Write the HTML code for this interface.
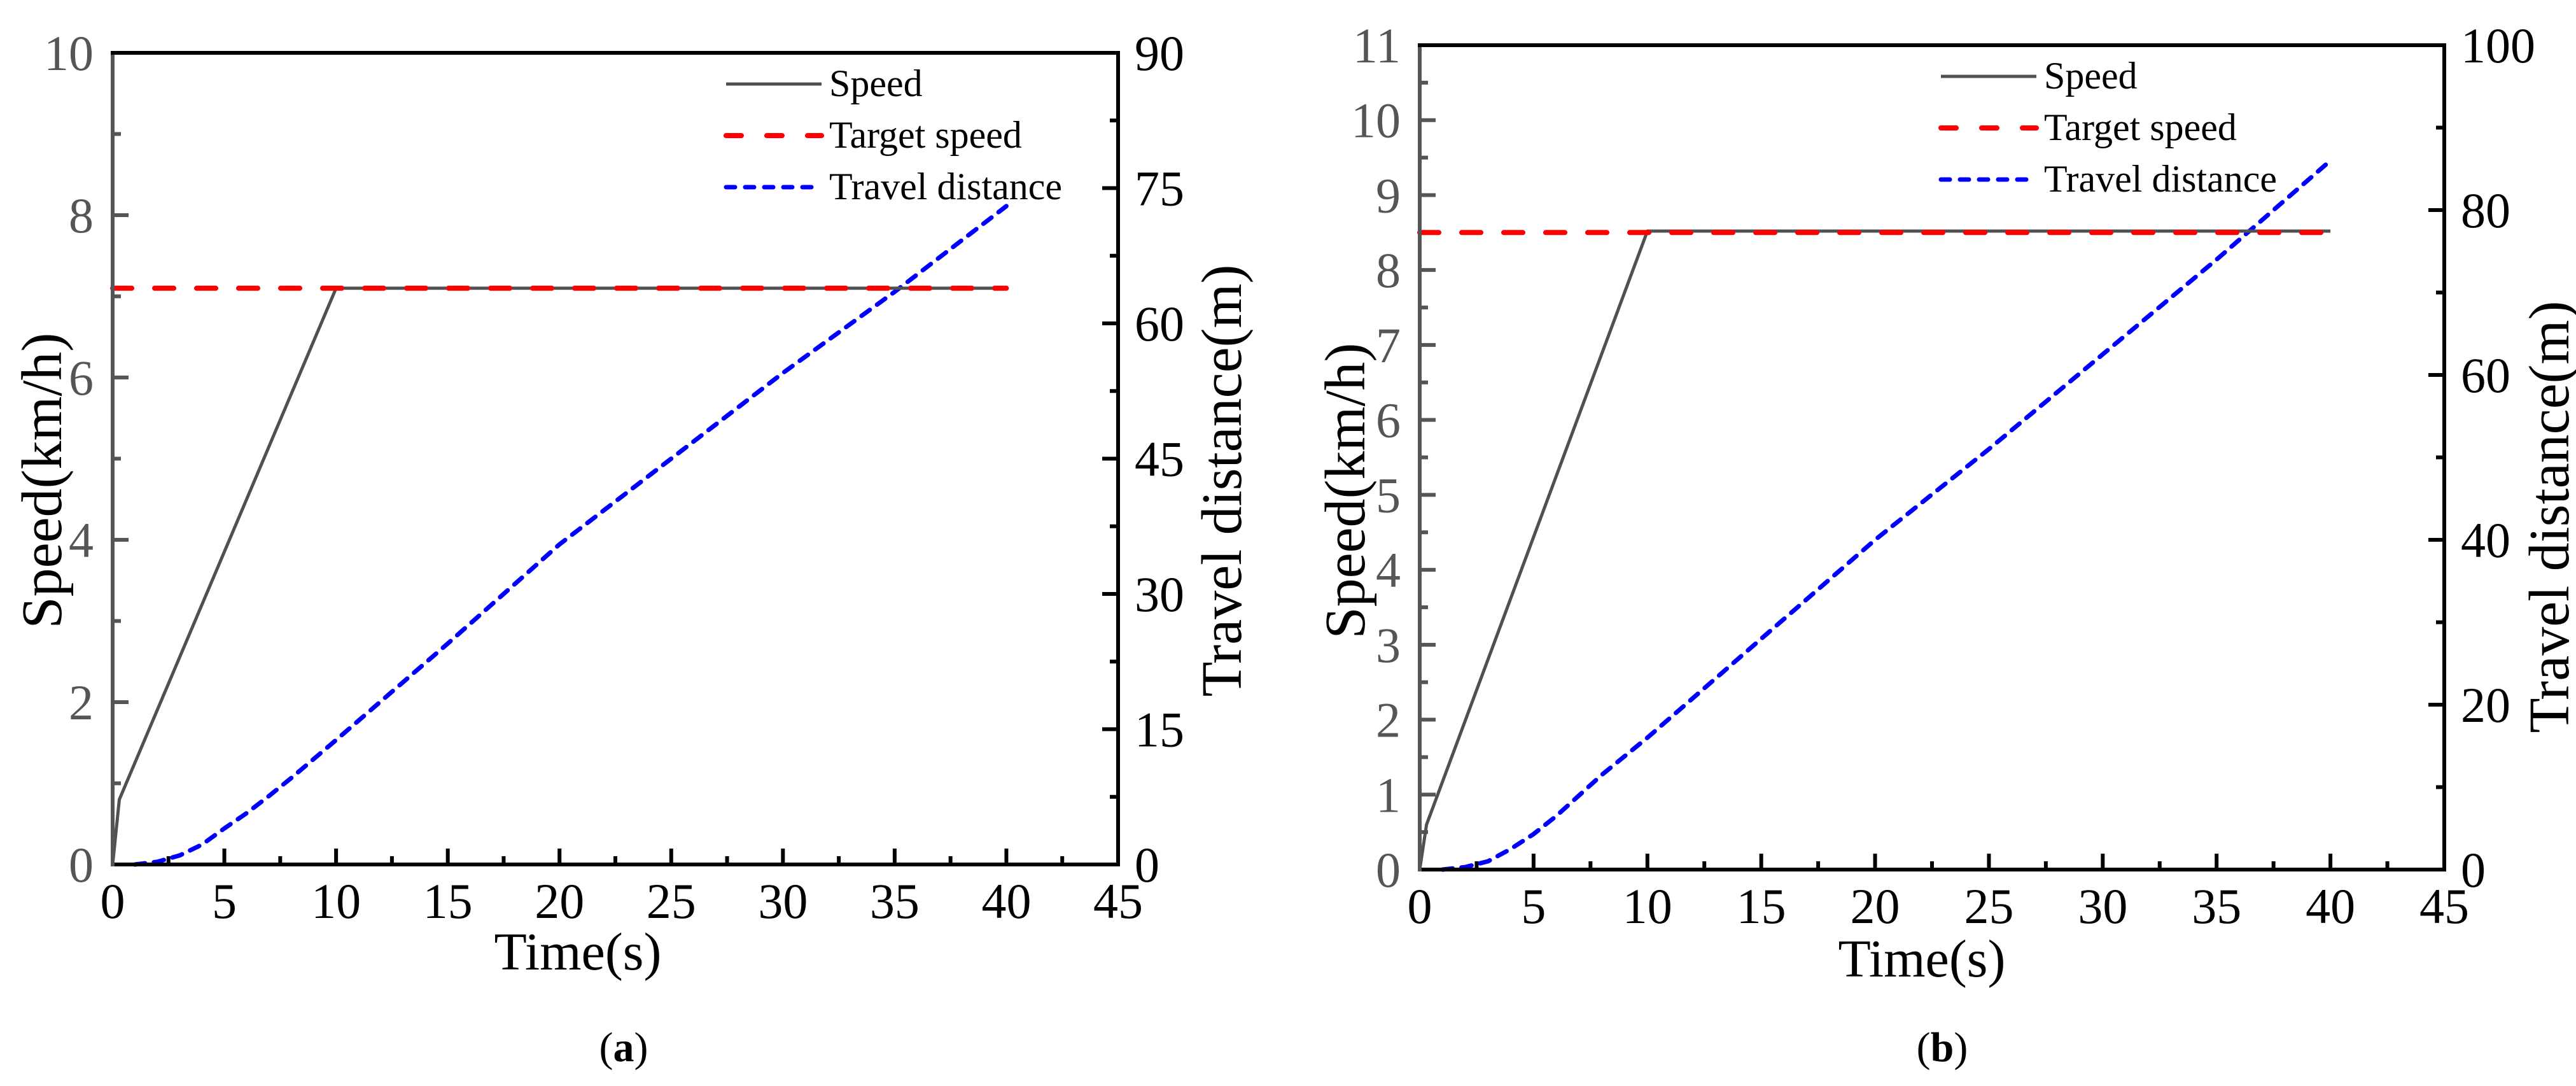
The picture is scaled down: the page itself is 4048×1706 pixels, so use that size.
<!DOCTYPE html>
<html><head><meta charset="utf-8"><style>
html,body{margin:0;padding:0;background:#fff;}
svg{display:block;font-family:"Liberation Serif",serif;}
</style></head><body>
<svg id="chart" width="4048" height="1706" viewBox="0 0 4048 1706" xmlns="http://www.w3.org/2000/svg"></svg>
<script>
// ---- Panel (a) data ----
const aSpeedT = [0, 0.3, 10, 40];
const aSpeedV = [0, 0.8, 7.1, 7.1];
const aTargetT = [0, 40];
const aTargetV = [7.1, 7.1];
const aDistT = [1, 2, 3, 4, 5, 6, 7, 8, 9, 10, 15, 20, 25, 30, 35, 40];
const aDistV = [0, 0.3, 1, 2.2, 4, 5.7, 7.6, 9.6, 11.7, 13.8, 24.5, 35.5, 45, 54.5, 63.5, 73];
const aLeftTicks = [0, 2, 4, 6, 8, 10];
const aRightTicks = [0, 15, 30, 45, 60, 75, 90];
// ---- Panel (b) data ----
const bSpeedT = [0, 0.3, 10, 40];
const bSpeedV = [0, 0.6, 8.52, 8.52];
const bTargetT = [0, 40];
const bTargetV = [8.5, 8.5];
const bDistT = [1, 2, 3, 4, 5, 6, 7, 8, 10, 15, 20, 25, 30, 35, 40];
const bDistV = [0, 0.3, 1, 2.5, 4.3, 6.5, 9, 11.5, 16, 28, 40, 51, 62.5, 74, 86];
const bLeftTicks = [0, 1, 2, 3, 4, 5, 6, 7, 8, 9, 10, 11];
const bRightTicks = [0, 20, 40, 60, 80, 100];
const xTicks = [0, 5, 10, 15, 20, 25, 30, 35, 40, 45];
const legendLabels = ["Speed", "Target speed", "Travel distance"];

const NS = "http://www.w3.org/2000/svg";
const svg = document.getElementById("chart");
function mk(tag, attrs, parent, text) {
  const e = document.createElementNS(NS, tag);
  for (const k in attrs) e.setAttribute(k, attrs[k]);
  if (text !== undefined) e.textContent = text;
  (parent || svg).appendChild(e);
  return e;
}

function panel(cfg) {
  const g = mk("g", {});
  
  
  const L = cfg.L, R = cfg.R, T = cfg.T, B = cfg.B;
  const xs = t => L + (t - 0) / 45 * (R - L);
  const ysl = v => B - v / cfg.lMax * (B - T);
  const ysr = v => B - v / cfg.rMax * (B - T);

  for (let i = 0; i < cfg.lTicks.length; i++) {
    const v = cfg.lTicks[i];
    const y = ysl(v);
    if (v !== 0 && v !== cfg.lMax) {
      const t = mk("line", {x1: L, x2: L + 25, y1: y, y2: y, stroke: "#555", "stroke-width": 6}, g);
      
      
    }
    if (i < cfg.lTicks.length - 1) {
      const ym = ysl((v + cfg.lTicks[i + 1]) / 2);
      const t2 = mk("line", {x1: L, x2: L + 13, y1: ym, y2: ym, stroke: "#555", "stroke-width": 6}, g);
      
      
    }
    const lb = mk("text", {x: L - 30, y: y + 27, "text-anchor": "end", "font-size": 78, fill: "#555"}, g, String(v));
    
    
  }
  for (let i = 0; i < cfg.rTicks.length; i++) {
    const v = cfg.rTicks[i];
    const y = ysr(v);
    if (v !== 0 && v !== cfg.rMax) {
      const t = mk("line", {x1: R, x2: R - 25, y1: y, y2: y, stroke: "#000", "stroke-width": 6}, g);
      
      
    }
    if (i < cfg.rTicks.length - 1) {
      const ym = ysr((v + cfg.rTicks[i + 1]) / 2);
      const t2 = mk("line", {x1: R, x2: R - 13, y1: ym, y2: ym, stroke: "#000", "stroke-width": 6}, g);
      
      
    }
    const lb = mk("text", {x: R + 26, y: y + 27, "text-anchor": "start", "font-size": 78, fill: "#000"}, g, String(v));
    
    
  }
  for (let i = 0; i < xTicks.length; i++) {
    const v = xTicks[i];
    const x = xs(v);
    if (v !== 0 && v !== 45) {
      const t = mk("line", {x1: x, x2: x, y1: B, y2: B - 25, stroke: "#000", "stroke-width": 6}, g);
      
      
    }
    if (i < xTicks.length - 1) {
      const xm = xs(v + 2.5);
      const t2 = mk("line", {x1: xm, x2: xm, y1: B, y2: B - 13, stroke: "#000", "stroke-width": 6}, g);
      
      
    }
    const lb = mk("text", {x: x, y: B + 84, "text-anchor": "middle", "font-size": 78, fill: "#000"}, g, String(v));
    
    
  }

  function path(ts, vs, yf) {
    return ts.map((t, i) => (i ? "L" : "M") + xs(t).toFixed(1) + " " + yf(vs[i]).toFixed(1)).join(" ");
  }
  const dist = mk("path", {d: path(cfg.dT, cfg.dV, ysr), fill: "none", stroke: "#0000ff", "stroke-width": 7, "stroke-dasharray": "16 14", "stroke-linecap": "round", "stroke-linejoin": "round"}, g);
  
  
  const sp = mk("path", {d: path(cfg.sT, cfg.sV, ysl), fill: "none", stroke: "#505050", "stroke-width": 5, "stroke-linejoin": "round"}, g);
  
  
  const tg = mk("path", {d: path(cfg.tT, cfg.tV, ysl), fill: "none", stroke: "#ff0000", "stroke-width": 8, "stroke-dasharray": "30 36", "stroke-linecap": "round"}, g);
  
  

  const top = mk("line", {x1: L - 3, x2: R + 3, y1: T, y2: T, stroke: "#000", "stroke-width": 6}, g);
  
  
  const bot = mk("line", {x1: L - 3, x2: R + 3, y1: B, y2: B, stroke: "#000", "stroke-width": 6}, g);
  
  
  const ra = mk("line", {x1: R, x2: R, y1: T, y2: B + 3, stroke: "#000", "stroke-width": 6}, g);
  
  
  const la = mk("line", {x1: L, x2: L, y1: T + 3, y2: B + 3, stroke: "#555", "stroke-width": 6}, g);
  
  

  const lx1 = cfg.legX, lx2 = cfg.legX + 150;
  const styles = [
    {stroke: "#505050", "stroke-width": 5},
    {stroke: "#ff0000", "stroke-width": 8, "stroke-dasharray": "24 40", "stroke-linecap": "round"},
    {stroke: "#0000ff", "stroke-width": 7, "stroke-dasharray": "14 16", "stroke-linecap": "round"}
  ];
  for (let i = 0; i < legendLabels.length; i++) {
    const y = cfg.legY + i * 81;
    const a = Object.assign({x1: lx1, x2: lx2, y1: y, y2: y}, styles[i]);
    const ln = mk("line", a, g);
    
    
    const tx = mk("text", {x: lx2 + 12, y: y + 19, "font-size": 60, fill: "#000"}, g, legendLabels[i]);
    
    
  }

  const xt = mk("text", {x: cfg.xtX, y: cfg.xtY, "text-anchor": "middle", "font-size": 84, fill: "#000"}, g, "Time(s)");
  
  
  const yl = mk("text", {x: 0, y: 0, "text-anchor": "middle", "font-size": 90, fill: "#000", transform: `translate(${cfg.ylX},${cfg.ylY}) rotate(-90)`}, g, "Speed(km/h)");
  
  
  const yr = mk("text", {x: 0, y: 0, "text-anchor": "middle", "font-size": 90, fill: "#000", transform: `translate(${cfg.yrX},${cfg.yrY}) rotate(-90)`}, g, "Travel distance(m)");
  
  
  const cap = mk("text", {x: cfg.capX, y: 1667, "text-anchor": "middle", "font-size": 66, fill: "#000"}, g);
  
  
  mk("tspan", {}, cap, "(");
  mk("tspan", {"font-weight": "bold"}, cap, cfg.letter);
  mk("tspan", {}, cap, ")");
}

panel({name: "panel-a", L: 177, R: 1757, T: 83, B: 1358, lMax: 10, rMax: 90,
  lTicks: aLeftTicks, rTicks: aRightTicks,
  sT: aSpeedT, sV: aSpeedV, tT: aTargetT, tV: aTargetV, dT: aDistT, dV: aDistV,
  legX: 1141, legY: 132, xtX: 908, xtY: 1523, ylX: 96, ylY: 755, yrX: 1950, yrY: 755, capX: 980, letter: "a"});
panel({name: "panel-b", L: 2231, R: 3841, T: 71, B: 1366, lMax: 11, rMax: 100,
  lTicks: bLeftTicks, rTicks: bRightTicks,
  sT: bSpeedT, sV: bSpeedV, tT: bTargetT, tV: bTargetV, dT: bDistT, dV: bDistV,
  legX: 3050, legY: 120, xtX: 3020, xtY: 1534, ylX: 2144, ylY: 771, yrX: 4036, yrY: 812, capX: 3052, letter: "b"});
</script>
</body></html>
